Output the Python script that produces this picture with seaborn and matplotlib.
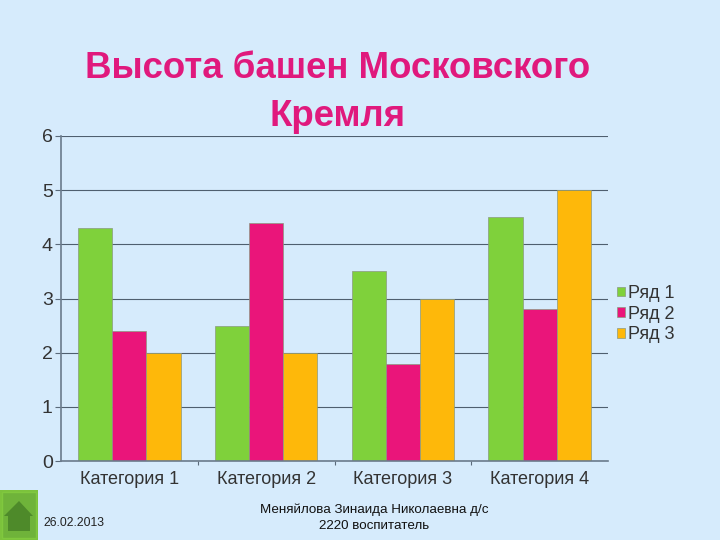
import matplotlib
matplotlib.use("Agg")
import matplotlib.pyplot as plt
from matplotlib.patches import Rectangle, Polygon
import pandas as pd
import seaborn as sns

categories = ["Категория 1", "Категория 2", "Категория 3", "Категория 4"]
series_names = ["Ряд 1", "Ряд 2", "Ряд 3"]
row1 = [4.3, 2.5, 3.5, 4.5]
row2 = [2.4, 4.4, 1.8, 2.8]
row3 = [2.0, 2.0, 3.0, 5.0]
colors = ["#7FD13B", "#EA157A", "#FEB80A"]
title = "Высота башен Московского\nКремля"
footer = "Меняйлова Зинаида Николаевна д/с\n2220 воспитатель"
date = "26.02.2013"

df = pd.DataFrame({
    "cat": categories * 3,
    "series": [s for s in series_names for _ in categories],
    "val": row1 + row2 + row3,
})

BG = "#D6EBFC"
W, H = 720, 540
sns.set_theme(style="white")
plt.rcParams["font.family"] = ["Liberation Sans", "DejaVu Sans"]

fig = plt.figure(figsize=(7.2, 5.4), dpi=100, facecolor=BG)
ax = fig.add_axes([61 / W, 1 - 461 / H, 547 / W, 325 / H], facecolor=BG)
sns.barplot(data=df, x="cat", y="val", hue="series", palette=colors, hue_order=series_names,
            order=categories, width=0.75, saturation=1, edgecolor="#8A9A80", linewidth=0.5,
            gap=0, ax=ax)

ax.set_xlim(-0.5, 3.5)
ax.set_ylim(0, 6)
ax.set_yticks(range(7))
ax.set_xlabel("")
ax.set_ylabel("")
ax.yaxis.grid(True, color="#4F5F6F", linewidth=0.8)
ax.set_axisbelow(True)
for s in ["top", "right"]:
    ax.spines[s].set_visible(False)
for s in ["left", "bottom"]:
    ax.spines[s].set_color("#6B7B8C")
    ax.spines[s].set_linewidth(1.2)
ax.tick_params(axis="y", left=True, length=4, width=0.8, color="#5A6A7A", labelsize=14, labelcolor="#333333", pad=2)
ax.set_xticks([0.5, 1.5, 2.5], minor=True)
ax.tick_params(axis="x", which="minor", bottom=True, length=3, width=0.8, color="#5A6A7A")
ax.tick_params(axis="x", which="major", bottom=False, labelsize=13, labelcolor="#333333", pad=1)

ax.legend(loc="center left", bbox_to_anchor=(1.0, 0.452), frameon=False, fontsize=13,
          labelcolor="#333333", handlelength=0.45, handleheight=0.45, handletextpad=0.15,
          labelspacing=0.2, borderaxespad=0.5, borderpad=0)

fig.text(338 / W, 1 - 69 / H, title.split("\n")[0], ha="center", va="center", fontsize=26.4,
         fontweight="bold", color="#E0197D")
fig.text(338 / W, 1 - 116 / H, title.split("\n")[1], ha="center", va="center", fontsize=26.4,
         fontweight="bold", color="#E0197D")

fig.text(374 / W, 1 - 510 / H, footer.split("\n")[0], ha="center", va="center", fontsize=9.6, color="#111111")
fig.text(374 / W, 1 - 526 / H, footer.split("\n")[1], ha="center", va="center", fontsize=9.6, color="#111111")
fig.text(43 / W, 1 - 523 / H, date, ha="left", va="center", fontsize=8.8, color="#222222")

# home button
def px(x, y):
    return (x / W, 1 - y / H)
fig.add_artist(Rectangle(px(0, 540), 38 / W, 50 / H, transform=fig.transFigure, facecolor="#7CC23C", edgecolor="none"))
fig.add_artist(Rectangle(px(2, 538), 34 / W, 46 / H, transform=fig.transFigure, facecolor="#6FB33A", edgecolor="#80C83E", linewidth=1))
fig.add_artist(Polygon([px(4, 516), px(19, 501), px(33, 516)], transform=fig.transFigure, facecolor="#4E8A2A", edgecolor="none"))
fig.add_artist(Rectangle(px(8, 531), 22 / W, 15 / H, transform=fig.transFigure, facecolor="#4E8A2A", edgecolor="none"))

fig.savefig("out.png", dpi=100, facecolor=BG)
